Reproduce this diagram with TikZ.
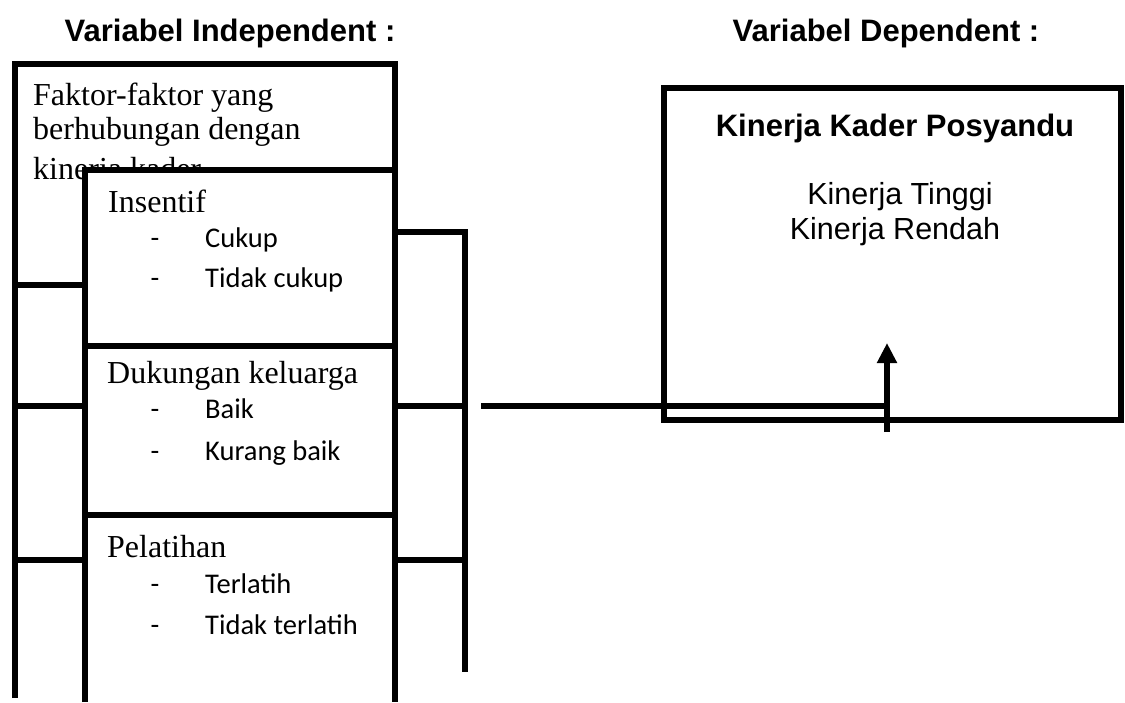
\documentclass[tikz,border=0pt]{standalone}
\usepackage{fontspec}
\setmainfont{Liberation Serif}
\newfontfamily\arialf{Liberation Sans}
\newfontfamily\calf{Carlito}
\usetikzlibrary{arrows.meta}
\tikzset{
  ln/.style={line width=5.5pt, line join=miter},
  hdr/.style={font=\arialf\bfseries\fontsize{31}{35}\selectfont, inner sep=0pt, anchor=base},
  ari/.style={font=\arialf\fontsize{30.5}{35}\selectfont, inner sep=0pt, anchor=base},
  ser/.style={font=\fontsize{32}{36}\selectfont, inner sep=0pt, anchor=base west},
  itm/.style={font=\calf\fontsize{28.5}{32}\selectfont, inner sep=0pt, anchor=base west},
  tip/.style={-{Triangle[width=19pt,length=20pt]}}
}
\begin{document}
\begin{tikzpicture}[x=1pt,y=-1pt]
\useasboundingbox (0,0) rectangle (1125,702);

% headings
\node[hdr] (hind) at (230,41) {Variabel Independent :};
\node[hdr] (hdep) at (886,41) {Variabel Dependent :};

% outer (background) frame lines
\draw[ln] (15,698) -- (15,64) -- (395,64) -- (395,180);
\draw[ln] (15,285) -- (88,285);
\draw[ln] (15,406) -- (88,406);
\draw[ln] (15,560) -- (88,560);
\draw[ln] (395,232) -- (465,232) -- (465,672);
\draw[ln] (395,406) -- (465,406);
\draw[ln] (395,560) -- (465,560);

% text of outer box
\node[ser] (f1) at (33,105) {Faktor-faktor yang};
\node[ser] (f2) at (33,139.5) {berhubungan dengan};
\node[ser] (f3) at (33,179) {kinerja kader};

% inner boxes
\fill[white] (85,170) rectangle (395,702);
\draw[ln] (85,702) -- (85,170) -- (395,170) -- (395,702);
\draw[ln] (85,346) -- (395,346);
\draw[ln] (85,515) -- (395,515);

% Insentif
\node[ser] (ins) at (108,212) {Insentif};
\node[itm] (d1) at (150.5,247) {-};
\node[itm] (i1) at (205,247) {Cukup};
\node[itm] (d2) at (150.5,287) {-};
\node[itm] (i2) at (205,287) {Tidak cukup};

% Dukungan keluarga
\node[ser] (duk) at (107,383) {Dukungan keluarga};
\node[itm] (d3) at (150.5,418) {-};
\node[itm] (k1) at (205,418) {Baik};
\node[itm] (d4) at (150.5,460) {-};
\node[itm] (k2) at (205,460) {Kurang baik};

% Pelatihan
\node[ser] (pel) at (107,557) {Pelatihan};
\node[itm] (d5) at (150.5,593) {-};
\node[itm] (p1) at (205,593) {Terlatih};
\node[itm] (d6) at (150.5,634) {-};
\node[itm] (p2) at (205,634) {Tidak terlatih};

% dependent box
\node[ln, draw, rectangle, minimum width=457pt, minimum height=332pt, inner sep=0pt] (dep) at (892.5,254) {};
\node[hdr] (kkp) at (895,136) {Kinerja Kader Posyandu};
\node[ari] (kt) at (900,204) {Kinerja Tinggi};
\node[ari] (kr) at (895,239) {Kinerja Rendah};

% connector
\coordinate (cs) at (481,406);
\coordinate (ce) at (887,406);
\coordinate (as) at (887,432);
\coordinate (atip) at (887,343);
\draw[ln] (cs) -- (ce);
\draw[ln, tip] (as) -- (atip);
\end{tikzpicture}
\end{document}
